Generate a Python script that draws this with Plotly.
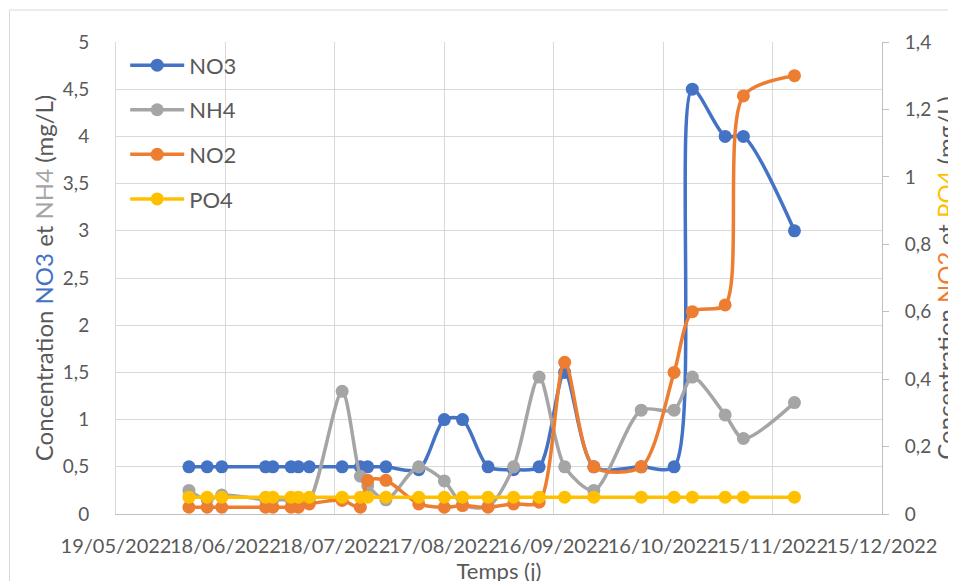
import plotly.graph_objects as go

dates = ["2022-06-08", "2022-06-13", "2022-06-17", "2022-06-29", "2022-07-01", "2022-07-06",
         "2022-07-08", "2022-07-11", "2022-07-20", "2022-07-25", "2022-07-27", "2022-08-01",
         "2022-08-10", "2022-08-17", "2022-08-22", "2022-08-29", "2022-09-05", "2022-09-12",
         "2022-09-19", "2022-09-27", "2022-10-10", "2022-10-19", "2022-10-24", "2022-11-02",
         "2022-11-07", "2022-11-21"]
no3 = [0.5, 0.5, 0.5, 0.5, 0.5, 0.5, 0.5, 0.5, 0.5, 0.5, 0.5, 0.5, 0.47, 1.0, 1.0, 0.5,
       0.47, 0.5, 1.5, 0.5, 0.5, 0.5, 4.5, 4.0, 4.0, 3.0]
nh4 = [0.25, 0.15, 0.2, 0.15, 0.15, 0.15, 0.15, 0.15, 1.3, 0.4, 0.3, 0.15, 0.5, 0.35, 0.1, 0.08,
       0.5, 1.45, 0.5, 0.25, 1.1, 1.1, 1.45, 1.05, 0.8, 1.18]
no2 = [0.02, 0.02, 0.02, 0.02, 0.02, 0.02, 0.02, 0.03, 0.04, 0.02, 0.1, 0.1, 0.03, 0.02, 0.025,
       0.02, 0.03, 0.035, 0.45, 0.14, 0.14, 0.42, 0.6, 0.62, 1.24, 1.3]
po4 = [0.05, 0.05, 0.05, 0.05, 0.05, 0.05, 0.05, 0.05, 0.05, 0.05, 0.05, 0.05, 0.05, 0.05,
       0.05, 0.05, 0.05, 0.05, 0.05, 0.05, 0.05, 0.05, 0.05, 0.05, 0.05, 0.05]

x_range = ["2022-05-19", "2022-12-15"]
colors = {"NO3": "#4472C4", "NH4": "#A5A5A5", "NO2": "#ED7D31", "PO4": "#FFC000"}
FONT = "Lato"
TXT = "#595959"

fig = go.Figure()
for name, vals, ax in [("NO3", no3, "y"), ("NH4", nh4, "y"), ("NO2", no2, "y2"), ("PO4", po4, "y2")]:
    fig.add_trace(go.Scatter(
        x=dates, y=vals, name=name, yaxis=ax, mode="lines+markers",
        line=dict(color=colors[name], width=3.5, shape="spline", smoothing=0.8),
        marker=dict(color=colors[name], size=13),
        legendgroup=name,
    ))

fig.update_layout(
    width=956, height=581,
    margin=dict(l=108, r=82, t=34, b=75, autoexpand=False),
    paper_bgcolor="white", plot_bgcolor="white",
    separators=", ",
    font=dict(family=FONT, color=TXT, size=18),
    showlegend=True,
    legend=dict(x=0.012, y=0.995, xanchor="left", yanchor="top", bgcolor="rgba(0,0,0,0)",
                font=dict(size=22, color=TXT), tracegroupgap=13, itemwidth=54),
    xaxis=dict(
        type="date", range=x_range, tick0=x_range[0], dtick=30 * 86400000,
        tickformat="%d/%m/%Y", tickangle=0, showgrid=True, gridcolor="#d9d9d9", gridwidth=1,
        showline=True, linecolor="#bfbfbf", linewidth=1, ticks="", zeroline=False,
        tickfont=dict(size=20, color=TXT), ticklabelstandoff=14,
        title=dict(text="Temps (j)", font=dict(size=22, color=TXT), standoff=0),
    ),
    yaxis=dict(
        range=[0, 5], dtick=0.5, showgrid=True, gridcolor="#d9d9d9", gridwidth=1,
        showline=True, linecolor="#d9d9d9", zeroline=False, ticks="",
        tickfont=dict(size=19, color=TXT), ticklabelstandoff=22,
        title=dict(text="Concentration <span style='color:#4472C4'>NO3</span> et "
                        "<span style='color:#A5A5A5'>NH4</span> (mg/L)",
                   font=dict(size=24, color=TXT), standoff=2),
    ),
    yaxis2=dict(
        range=[0, 1.4], dtick=0.2, overlaying="y", side="right", showgrid=False,
        showline=True, linecolor="#bfbfbf", zeroline=False, ticks="outside", ticklen=6,
        tickcolor="#bfbfbf", tickfont=dict(size=19, color=TXT), ticklabelstandoff=12,
        title=dict(text="Concentration <span style='color:#ED7D31'>NO2</span> et "
                        "<span style='color:#FFC000'>PO4</span> (mg/L)",
                   font=dict(size=24, color=TXT), standoff=6),
    ),
    shapes=[
        dict(type="line", xref="paper", yref="paper", x0=-0.139, x1=1.2, y0=1.0678, y1=1.0678,
             line=dict(color="#d9d9d9", width=1), layer="below"),
        dict(type="line", xref="paper", yref="paper", x0=-0.139, x1=-0.139, y0=-0.2, y1=1.0678,
             line=dict(color="#d9d9d9", width=1), layer="below"),
    ],
)

fig.write_html("out.html")
